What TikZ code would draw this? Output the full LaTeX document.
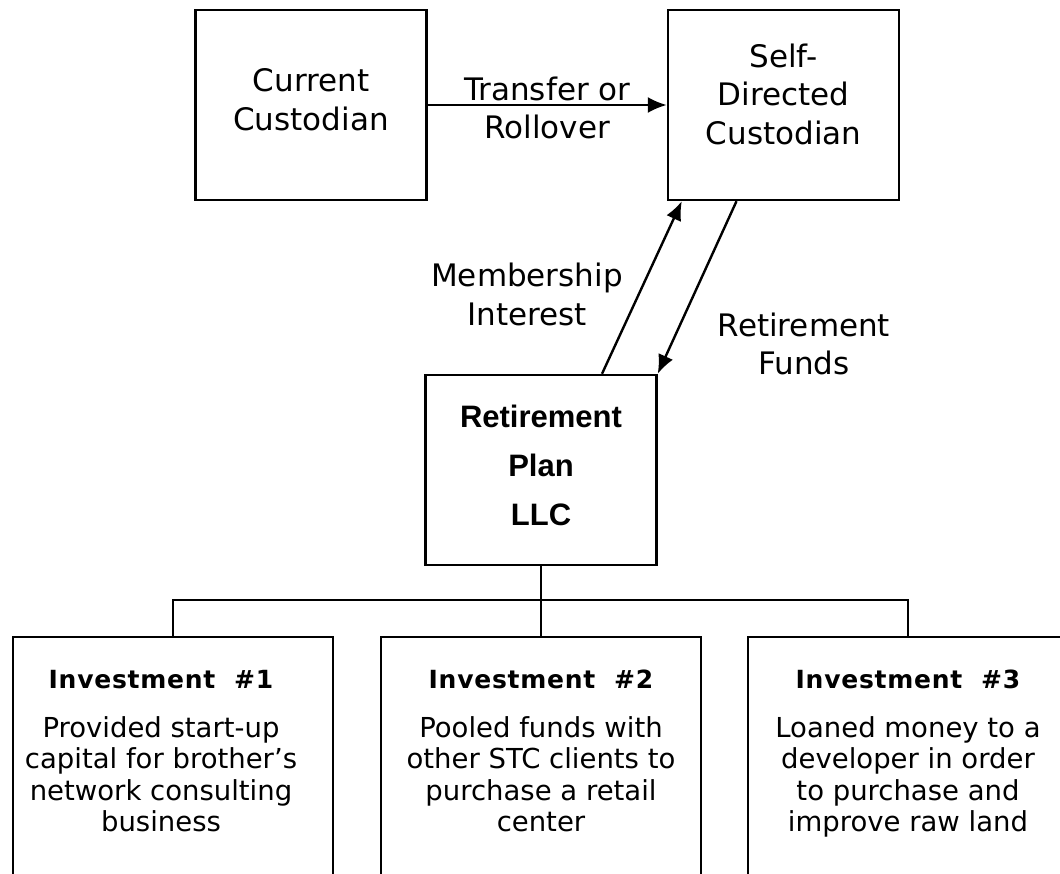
\documentclass[tikz,border=0pt]{standalone}
\usepackage{fontspec}
\usetikzlibrary{arrows.meta}
\newfontfamily\verdfont{DejaVu Sans}
\newfontfamily\headfont{DejaVu Sans}[LetterSpace=3]
\newfontfamily\llcfont{Liberation Sans}

\begin{document}
\begin{tikzpicture}[x=1pt,y=-1pt,
  box/.style={draw,line width=2.4pt,minimum width=231pt,minimum height=190pt,inner sep=0pt,align=center,
    font=\verdfont\fontsize{31}{38.5}\selectfont},
  lbl/.style={align=center,inner sep=0pt,font=\verdfont\fontsize{31}{38.5}\selectfont},
  invbox/.style={draw,line width=2.4pt,minimum width=320pt,minimum height=280pt,anchor=north},
  invhead/.style={anchor=base,inner sep=0pt,font=\headfont\bfseries\fontsize{25}{30}\selectfont},
  invtext/.style={anchor=north,align=center,inner sep=0pt,font=\verdfont\fontsize{27.5}{31.5}\selectfont},
  link/.style={line width=2.4pt,-{Latex[length=19pt,width=16pt]}},
  tree/.style={line width=2.4pt}
]
\clip (0,0) rectangle (1060,873);

% custodians and the plan
\node[box,text depth=11pt] (cur) at (311,105) {Current\\Custodian};
\node[box,text depth=22pt] (sdc) at (783.5,105) {Self-\\Directed\\Custodian};
\node[box,text depth=10pt,font=\llcfont\bfseries\fontsize{31}{49}\selectfont] (llc) at (541,470) {Retirement\\Plan\\LLC};

\draw[link] (cur) -- node[lbl,yshift=-3pt] {Transfer or\\Rollover} (sdc);
\draw[link] ([xshift=61pt]llc.north) -- ([xshift=15pt]sdc.south west);
\draw[link] ([xshift=-47pt]sdc.south) -- (llc.north east);

\node[lbl] (memb) at (527,294.5) {Membership\\Interest};
\node[lbl] (funds) at (804,344) {Retirement\\Funds};

% the three investments
\foreach \i/\x/\tx/\txt in {1/173/161/{Provided start-up\\capital for brother’s\\network consulting\\business},
                            2/541/541/{Pooled funds with\\other STC clients to\\purchase a retail\\center},
                            3/908/908/{Loaned money to a\\developer in order\\to purchase and\\improve raw land}}
{
  \node[invbox] (inv\i) at (\x,636) {};
  \node[invhead] (head\i) at (\tx,688) {Investment\ \ \#\i};
  \node[invtext] (text\i) at (\tx,716) {\txt};
}

\draw[tree] (llc.south) -- (inv2.north);
\draw[tree] (inv1.north) -- ++(0,-36) -| (inv3.north);

\end{tikzpicture}
\end{document}
